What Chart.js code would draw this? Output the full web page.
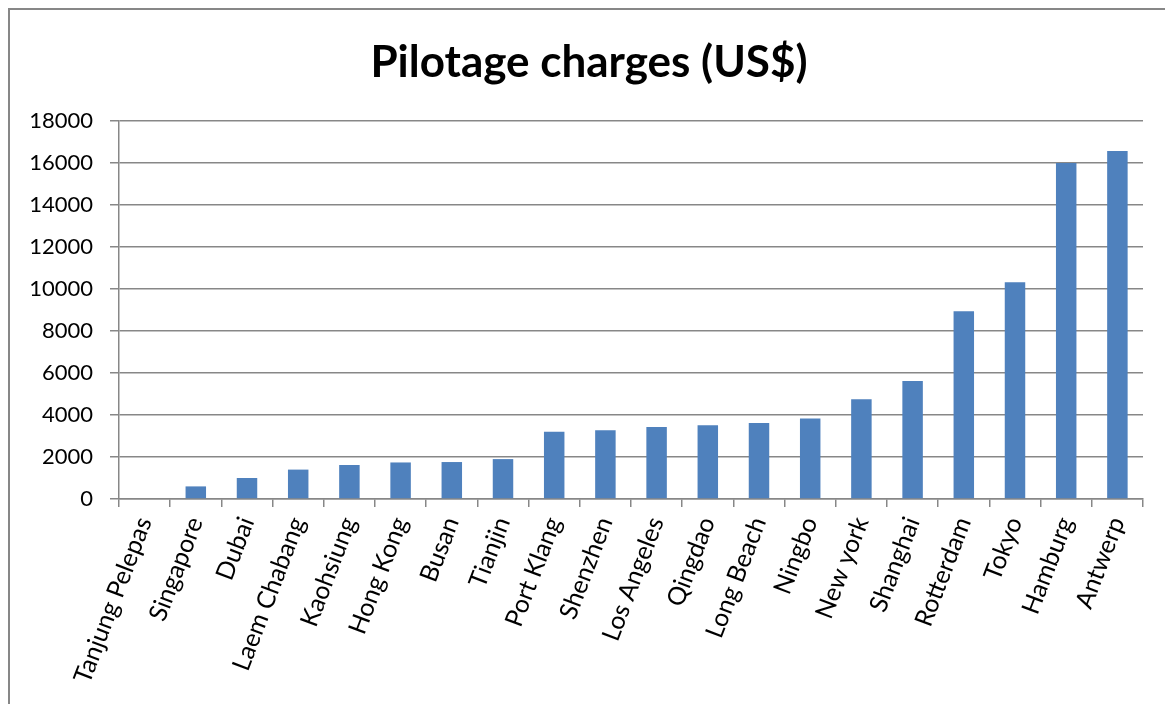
<!DOCTYPE html>
<html>
<head>
<meta charset="utf-8">
<script src="https://cdn.jsdelivr.net/npm/chart.js@4/dist/chart.umd.min.js"></script>
<style>
  html, body { margin: 0; padding: 0; background: #fff; }
  #wrap { position: relative; width: 1165px; height: 704px; overflow: hidden; }
  #frame { position: absolute; left: 8px; top: 8px; width: 1300px; height: 900px;
           border-top: 2px solid #878787; border-left: 2px solid #878787; }
  #c { position: absolute; left: 0; top: 0; }
</style>
</head>
<body>
<div id="wrap">
  <div id="frame"></div>
  <canvas id="c" width="1165" height="704"></canvas>
</div>
<script>
const ports = ["Tanjung Pelepas", "Singapore", "Dubai", "Laem Chabang", "Kaohsiung",
  "Hong Kong", "Busan", "Tianjin", "Port Klang", "Shenzhen", "Los Angeles", "Qingdao",
  "Long Beach", "Ningbo", "New york", "Shanghai", "Rotterdam", "Tokyo", "Hamburg", "Antwerp"];
const charges = [0, 600, 1000, 1400, 1620, 1740, 1760, 1900, 3200, 3270, 3430, 3510,
  3620, 3830, 4750, 5620, 8940, 10320, 16000, 16570];
const yMax = 18000;
const yStep = 2000;
const chartTitle = 'Pilotage charges (US$)';

const font = "Lato, 'Open Sans', sans-serif";

// Title drawn centred over the whole frame (not just the plot box)
const frameTitle = {
  id: 'frameTitle',
  afterDraw(chart) {
    const ctx = chart.ctx;
    ctx.save();
    ctx.font = `bold 44px ${font}`;
    ctx.fillStyle = '#000';
    ctx.textAlign = 'center';
    ctx.textBaseline = 'alphabetic';
    ctx.fillText(chartTitle, 589, 77);
    ctx.restore();
  }
};

new Chart(document.getElementById('c'), {
  type: 'bar',
  data: {
    labels: ports,
    datasets: [{
      label: chartTitle,
      data: charges,
      backgroundColor: '#4F81BD',
      borderWidth: 0,
      categoryPercentage: 1,
      barPercentage: 0.4
    }]
  },
  plugins: [frameTitle],
  options: {
    responsive: false,
    animation: false,
    layout: { padding: { left: 0, right: 22, top: 121, bottom: 0 } },
    plugins: {
      legend: { display: false },
      tooltip: { enabled: false },
      title: { display: false }
    },
    scales: {
      x: {
        grid: { display: true, drawOnChartArea: false, drawTicks: true, tickLength: 8,
                color: '#878787', lineWidth: 1.5, offset: true },
        border: { color: '#878787', width: 1.5 },
        ticks: { autoSkip: false, maxRotation: 69, minRotation: 69, color: '#000',
                 padding: 6, font: { family: font, size: 25 } },
        afterFit: s => { s.height = 205; }
      },
      y: {
        min: 0, max: yMax,
        grid: { color: '#878787', lineWidth: 1.5, drawTicks: true, tickLength: 9 },
        border: { color: '#878787', width: 1.5 },
        ticks: { stepSize: yStep, color: '#000', padding: 17,
                 font: { family: font, size: 22 },
                 callback: v => String(v) },
        afterFit: s => { s.width = 119; }
      }
    }
  }
});
</script>
</body>
</html>
